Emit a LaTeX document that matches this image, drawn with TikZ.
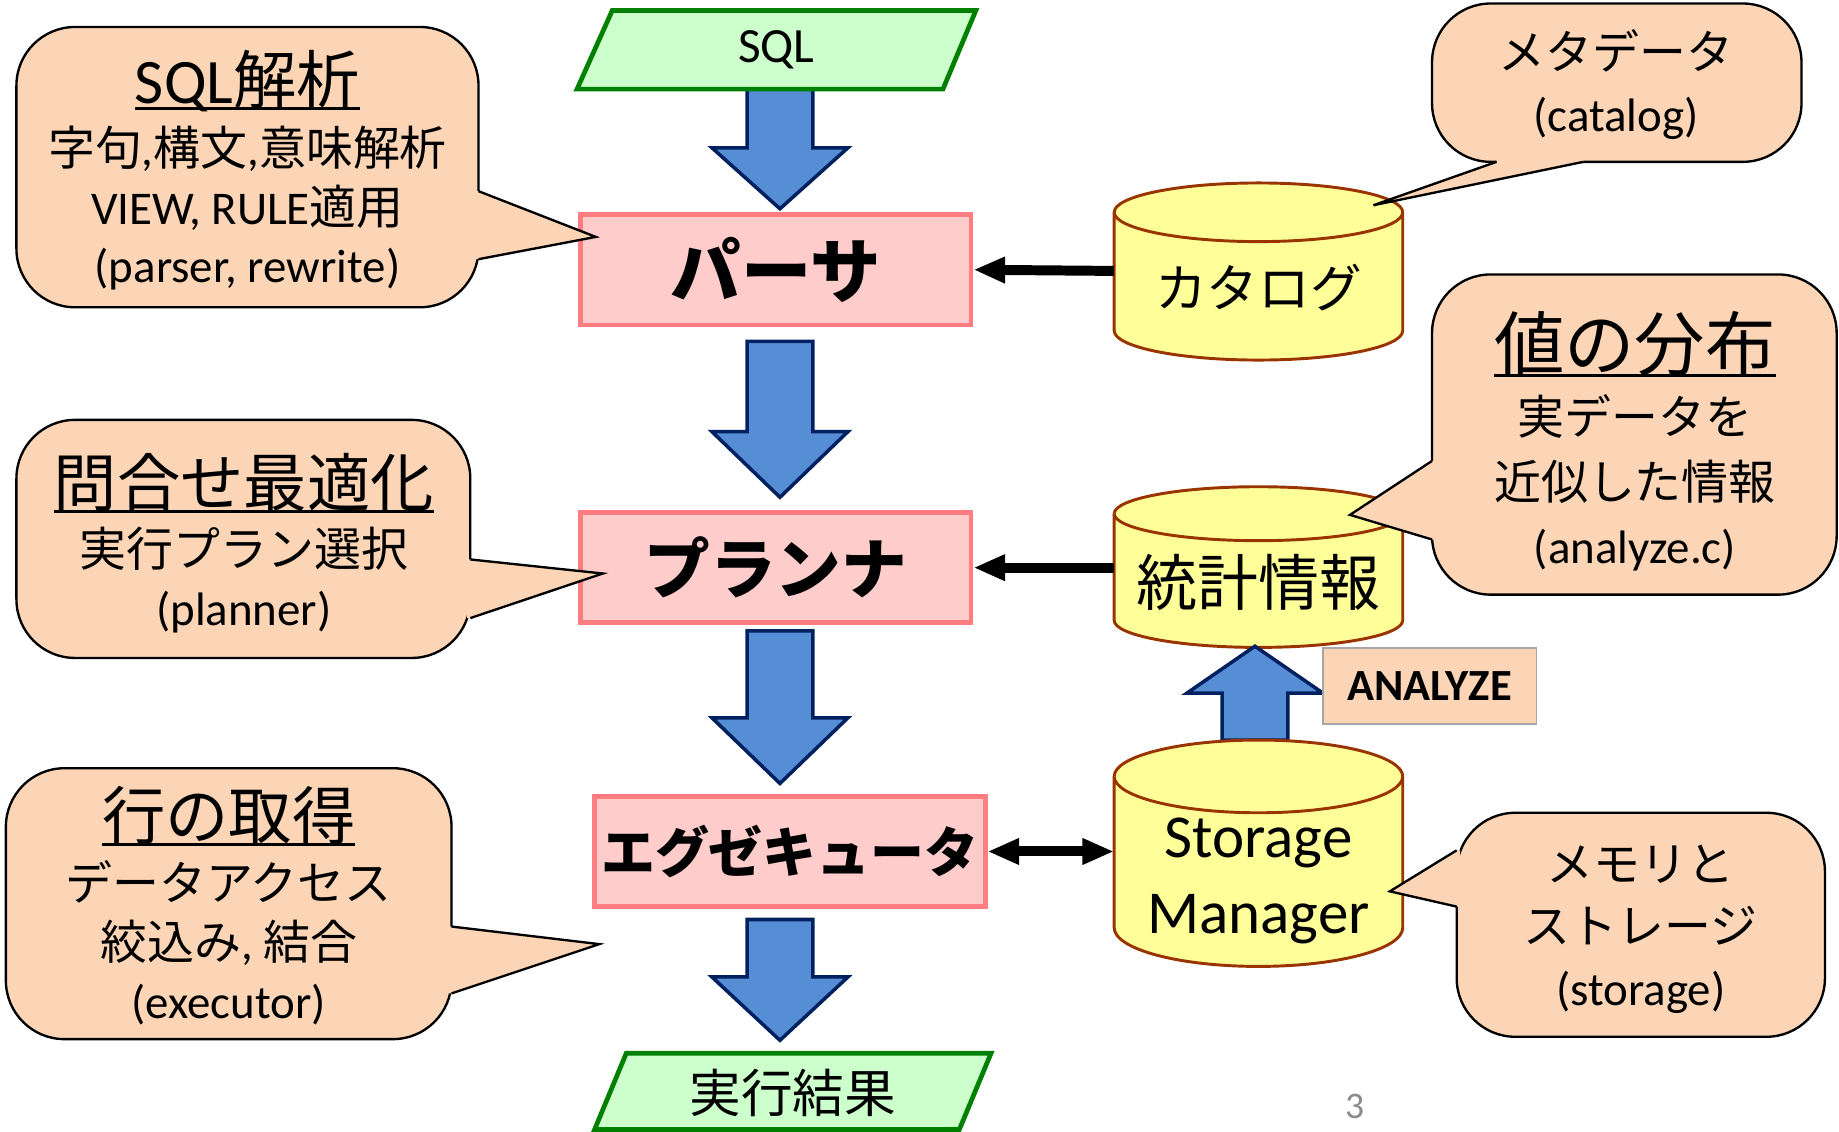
\documentclass[tikz,border=0pt]{standalone}
\usepackage{fontspec}
\setmainfont{Carlito}
\newfontfamily\jp{Noto Sans CJK JP}
\usetikzlibrary{arrows.meta}
\definecolor{peach}{HTML}{FBD5B5}
\definecolor{pinkfill}{HTML}{FFCCCC}
\definecolor{pinkline}{HTML}{FF7C80}
\definecolor{greenfill}{HTML}{CCFFCC}
\definecolor{greenline}{HTML}{008000}
\definecolor{cylfill}{HTML}{FFFF99}
\definecolor{cylline}{HTML}{993300}
\definecolor{bluefill}{HTML}{558ED5}
\definecolor{blueline}{HTML}{002060}
\definecolor{pagegray}{HTML}{8B8B8B}
\definecolor{boxgray}{HTML}{A6A6A6}
\newcommand\fs[2]{\fontsize{#1}{#2}\selectfont}
\newcommand\ulx[1]{\setbox0=\hbox{#1}\rlap{\rule[-6pt]{\wd0}{2.5pt}}\box0}
\newcommand\blockarrow[4]{\draw[barrow] (#1-28,#2) -- (#1-28,#3) -- (#1-58,#3) -- (#1,#4) -- (#1+58,#3) -- (#1+28,#3) -- (#1+28,#2) -- cycle;}
\newcommand\cyl[6]{%
 \filldraw[cylshape] (#1-#4,#2+#5) -- (#1-#4,#3-#6) arc[start angle=180,end angle=360,x radius=#4pt,y radius=#6pt] -- (#1+#4,#2+#5) arc[start angle=0,end angle=180,x radius=#4pt,y radius=#5pt] -- cycle;
 \draw[cylshape] (#1-#4,#2+#5) arc[start angle=180,end angle=360,x radius=#4pt,y radius=#5pt];}
\begin{document}
\begin{tikzpicture}[x=1pt,y=-1pt,
  barrow/.style={fill=bluefill,draw=blueline,line width=3pt,line join=miter},
  para/.style={fill=greenfill,draw=greenline,line width=4pt},
  ptext/.style={inner sep=0pt},
  pinkbox/.style={draw=pinkline,fill=pinkfill,line width=4pt,minimum width=333pt,minimum height=94pt,inner sep=0pt},
  cylshape/.style={fill=cylfill,draw=cylline,line width=2.5pt},
  cylarea/.style={draw=none,inner sep=0pt,minimum width=246pt},
  conn/.style={line width=8.5pt,-{Triangle[length=27pt,width=21pt]}},
  callout/.style={fill=peach,draw=black,line width=2pt,rounded corners=50pt},
  calloutline/.style={draw=black,line width=2pt,line join=miter},
  ctext/.style={align=center,inner sep=0pt,anchor=north},
  anbox/.style={fill=peach,draw=boxgray,line width=1.5pt,minimum width=182pt,minimum height=65pt,inner sep=0pt}
]
\useasboundingbox (0,0) rectangle (1568,965);

% block arrows (main flow)
\blockarrow{665}{75}{126}{178}
\blockarrow{665}{291}{368}{424}
\blockarrow{665}{538}{612}{668}
\blockarrow{665}{784}{833}{887}

% input / output parallelograms
\draw[para] (522,9) -- (832,9) -- (804,76) -- (492,76) -- cycle;
\node[ptext,font=\fs{42}{42}] (sql) at (662,42.5) {SQL};
\draw[para] (534,898) -- (845,898) -- (818,963) -- (507,963) -- cycle;
\node[ptext,font=\fs{44}{44}\jp] (result) at (676,932) {実行結果};

% process boxes
\node[pinkbox,font=\fs{60}{60}\jp\bfseries] (parser) at (661.5,230) {パーサ};
\node[pinkbox,font=\fs{56}{56}\jp\bfseries] (planner) at (661.5,484) {プランナ};
\node[pinkbox,font=\fs{46}{46}\jp\bfseries] (exec) at (673.5,726) {エグゼキュータ};

% cylinders
\cyl{1073}{156}{307}{123}{25}{25}
\node[cylarea,minimum height=140pt] (catalog) at (1073,231) {};
\node[ptext,font=\fs{44}{44}\jp] (catalogtext) at (1073,245) {カタログ};

\cyl{1073}{415}{552}{123}{23}{23}
\node[cylarea,minimum height=130pt] (stats) at (1073,484) {};
\node[ptext,font=\fs{52}{52}\jp] (statstext) at (1073,497) {統計情報};

\blockarrow{1070}{631}{591}{551}

\cyl{1073}{631}{824}{123}{31}{33}
\node[cylarea,minimum height=180pt] (storage) at (1073,726) {};
\node[ctext,font=\fs{52}{65}] (storagetext) at (1073,697) {Storage\\Manager};

% ANALYZE label
\node[anbox,font=\fs{38}{38}\bfseries] (analyze) at (1219,585) {ANALYZE};

% connectors
\draw[conn] (catalog.west) -- (parser.east);
\draw[conn] (stats.west) -- (planner.east);
\draw[conn,{Triangle[length=27pt,width=21pt]}-{Triangle[length=27pt,width=21pt]}] (exec.east) -- (storage.west);

% callout 1 (SQL)
\draw[callout] (14,23) rectangle (408,262);
\fill[peach] (405,163) -- (408,163) -- (508,202) -- (408,221) -- (405,221) -- cycle;
\draw[calloutline] (408,163) -- (508,202) -- (408,221);
\node[ctext,font=\fs{40}{50}] (c1) at (211,42.5) {{\fs{54}{54}\ulx{SQL{\jp 解析}}}\\[3pt]{\jp 字句},{\jp 構文},{\jp 意味解析}\\VIEW, RULE{\jp 適用}\\(parser, rewrite)};

% callout 2 (planner)
\draw[callout] (14,358) rectangle (401,561);
\fill[peach] (398,477) -- (401,477) -- (514,489) -- (401,527) -- (398,527) -- cycle;
\draw[calloutline] (401,477) -- (514,489) -- (401,527);
\node[ctext,font=\fs{40}{50}] (c2) at (208,386) {{\fs{54}{54}\jp\ulx{問合せ最適化}}\\[1.5pt]{\jp 実行プラン選択}\\(planner)};

% callout 3 (executor)
\draw[callout] (5,655) rectangle (385,886);
\fill[peach] (382,790) -- (385,790) -- (511,805) -- (385,847) -- (382,847) -- cycle;
\draw[calloutline] (385,790) -- (511,805) -- (385,847);
\node[ctext,font=\fs{40}{50}] (c3) at (195,670) {{\fs{54}{54}\jp\ulx{行の取得}}\\[2.5pt]{\jp データアクセス}\\{\jp 絞込み}, {\jp 結合}\\(executor)};

% callout 4 (catalog)
\draw[callout] (1221,3) rectangle (1536,138);
\fill[peach] (1276,135) -- (1276,138) -- (1171,175) -- (1350,138) -- (1350,135) -- cycle;
\draw[calloutline] (1276,138) -- (1171,175) -- (1350,138);
\node[ctext,font=\fs{40}{53}] (c4) at (1378,25) {{\jp メタデータ}\\(catalog)};

% callout 5 (statistics)
\draw[callout] (1221,234) rectangle (1566,507);
\fill[peach] (1224,393) -- (1221,393) -- (1151,439) -- (1221,460) -- (1224,460) -- cycle;
\draw[calloutline] (1221,393) -- (1151,439) -- (1221,460);
\node[ctext,font=\fs{40}{55}] (c5) at (1394,265) {{\fs{60}{60}\jp\ulx{値の分布}}\\{\jp 実データを}\\{\jp 近似した情報}\\(analyze.c)};

% callout 6 (storage)
\draw[callout] (1242,693) rectangle (1556,884);
\fill[peach] (1245,725) -- (1242,725) -- (1185,760) -- (1242,773) -- (1245,773) -- cycle;
\draw[calloutline] (1242,725) -- (1185,760) -- (1242,773);
\node[ctext,font=\fs{40}{53}] (c6) at (1399,720) {{\jp メモリと}\\{\jp ストレージ}\\(storage)};

% page number
\node[ptext,font=\fs{32}{32},text=pagegray] (pagenum) at (1155,943) {3};
\end{tikzpicture}
\end{document}
